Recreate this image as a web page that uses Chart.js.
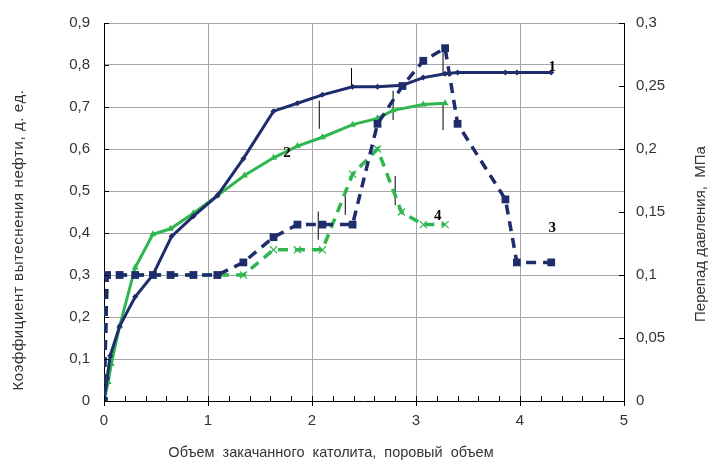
<!DOCTYPE html>
<html>
<head>
<meta charset="utf-8">
<script src="https://cdn.jsdelivr.net/npm/chart.js@4.4.1/dist/chart.umd.min.js"></script>
<style>
  html, body { margin: 0; padding: 0; background: #fff; }
  #wrap { width: 710px; height: 462px; }
</style>
</head>
<body>
<div id="wrap"><canvas id="chart" width="710" height="462"></canvas></div>
<script>
// curve 1: displacement coefficient (left axis), navy solid
const x1 = [0, 0.03, 0.06, 0.15, 0.3, 0.47, 0.65, 0.86, 1.09, 1.34, 1.63, 1.86, 2.1, 2.39, 2.63, 2.87, 3.07, 3.28, 3.4, 3.86, 3.97, 4.3];
const y1 = [0, 0.055, 0.108, 0.178, 0.248, 0.30, 0.392, 0.44, 0.489, 0.577, 0.69, 0.709, 0.729, 0.748, 0.748, 0.752, 0.77, 0.779, 0.782, 0.782, 0.782, 0.782];

// curve 2: displacement coefficient (left axis), green solid
const x2 = [0, 0.04, 0.07, 0.15, 0.3, 0.47, 0.64, 0.86, 1.09, 1.35, 1.63, 1.86, 2.1, 2.39, 2.63, 2.78, 3.07, 3.28];
const y2 = [0, 0.045, 0.088, 0.178, 0.318, 0.397, 0.41, 0.447, 0.489, 0.537, 0.579, 0.607, 0.628, 0.658, 0.673, 0.692, 0.706, 0.709];

// curve 3: pressure drop, MPa (right axis), navy dashed
const x3 = [0, 0.03, 0.15, 0.3, 0.47, 0.64, 0.86, 1.09, 1.34, 1.63, 1.86, 2.1, 2.39, 2.63, 2.87, 3.07, 3.28, 3.4, 3.86, 3.97, 4.3];
const y3 = [0, 0.1, 0.1, 0.1, 0.1, 0.1, 0.1, 0.1, 0.11, 0.13, 0.14, 0.14, 0.14, 0.22, 0.25, 0.27, 0.28, 0.22, 0.16, 0.11, 0.11];

// curve 4: pressure drop, MPa (right axis), green dashed
const x4 = [0, 0.03, 0.15, 0.3, 0.47, 0.64, 0.86, 1.09, 1.34, 1.63, 1.86, 2.1, 2.39, 2.63, 2.86, 3.07, 3.28];
const y4 = [0, 0.1, 0.1, 0.1, 0.1, 0.1, 0.1, 0.1, 0.1, 0.12, 0.12, 0.12, 0.18, 0.2, 0.15, 0.14, 0.14];

// error bars (left axis units)
const errX = [2.06, 2.07, 2.32, 2.38, 2.78, 2.8, 3.26, 3.26];
const errLow = [0.384, 0.648, 0.443, 0.748, 0.669, 0.466, 0.645, 0.78];
const errHigh = [0.451, 0.715, 0.505, 0.793, 0.739, 0.536, 0.711, 0.832];

// curve numbers, placed in data units
const curveNames = ['1', '2', '3', '4'];
const nameX = [4.31, 1.76, 4.31, 3.21];
const nameY = [0.795, 0.591, 0.411, 0.439];

const xTicks = [0, 1, 2, 3, 4, 5];

const navy = '#1f2c6c';
const green = '#2fb64f';
const grid = '#a6a6a6';
const tickFont = { family: 'Liberation Sans', size: 15 };

function pts(xs, ys) {
  return xs.map((x, i) => ({ x: x, y: ys[i] }));
}

let errData = [];
for (let i = 0; i < errX.length; i++) {
  errData.push({ x: errX[i], y: errLow[i] });
  errData.push({ x: errX[i], y: errHigh[i] });
  errData.push({ x: errX[i], y: null });
}

function comma(v) {
  return String(Number(v.toFixed(2))).replace('.', ',');
}

// minor ticks, curve numbers and axis titles
const extras = {
  id: 'extras',
  afterDatasetsDraw(chart) {
    const ctx = chart.ctx;
    const xs = chart.scales.x, ys = chart.scales.y, yr = chart.scales.y1;
    const a = chart.chartArea;
    ctx.save();
    ctx.strokeStyle = '#000';
    ctx.lineWidth = 1;
    ctx.beginPath();
    for (let k = 0; k <= 25; k++) {
      const px = Math.round(xs.getPixelForValue(k / 5)) + 0.5;
      const major = k % 5 === 0;
      ctx.moveTo(px, a.bottom - 5);
      ctx.lineTo(px, a.bottom + (major ? 5 : 0));
    }
    for (let k = 0; k <= 9; k++) {
      const py = Math.round(ys.getPixelForValue(k / 10)) + 0.5;
      ctx.moveTo(a.left, py);
      ctx.lineTo(a.left + 5, py);
    }
    for (let k = 0; k <= 6; k++) {
      const py = Math.round(yr.getPixelForValue(k / 20)) + 0.5;
      ctx.moveTo(a.right - 5, py);
      ctx.lineTo(a.right, py);
    }
    ctx.stroke();

    ctx.fillStyle = '#000';
    ctx.font = 'bold 15px "Liberation Serif"';
    ctx.textAlign = 'center';
    ctx.textBaseline = 'middle';
    curveNames.forEach((n, i) => {
      ctx.fillText(n, xs.getPixelForValue(nameX[i]), ys.getPixelForValue(nameY[i]));
    });

    ctx.fillStyle = '#333';
    ctx.font = '14.5px "Liberation Sans"';
    ctx.fillText('Объем  закачанного  католита,  поровый  объем', 331, 453);
    ctx.font = '15px "Liberation Sans"';
    ctx.save();
    ctx.translate(19, 240);
    ctx.rotate(-Math.PI / 2);
    ctx.letterSpacing = '0.6px';
    ctx.fillText('Коэффициент вытеснения нефти, д. ед.', 0, 0);
    ctx.restore();
    ctx.save();
    ctx.translate(701, 234);
    ctx.rotate(-Math.PI / 2);
    ctx.fillText('Перепад давления,  МПа', 0, 0);
    ctx.restore();
    ctx.restore();
  }
};

new Chart(document.getElementById('chart'), {
  type: 'scatter',
  data: {
    datasets: [
      {
        label: '3', data: pts(x3, y3), yAxisID: 'y1', showLine: true,
        borderColor: navy, backgroundColor: navy, borderWidth: 3.5, borderDash: [10, 7],
        pointStyle: 'rect', pointRadius: 5.5, pointBorderWidth: 0
      },
      {
        label: '4', data: pts(x4, y4), yAxisID: 'y1', showLine: true,
        borderColor: green, backgroundColor: green, borderWidth: 3.5, borderDash: [10, 7],
        pointStyle: 'crossRot', pointRadius: 5, pointBorderWidth: 1.2
      },
      {
        label: '1', data: pts(x1, y1), yAxisID: 'y', showLine: true,
        borderColor: navy, backgroundColor: navy, borderWidth: 3,
        pointStyle: 'rectRot', pointRadius: 3, pointBorderWidth: 0
      },
      {
        label: '2', data: pts(x2, y2), yAxisID: 'y', showLine: true,
        borderColor: green, backgroundColor: green, borderWidth: 3,
        pointStyle: 'triangle', pointRadius: 4, pointBorderWidth: 0
      },
      {
        label: 'err', data: errData, yAxisID: 'y', showLine: true, spanGaps: false,
        borderColor: '#000', borderWidth: 1, pointRadius: 0
      }
    ]
  },
  options: {
    responsive: false,
    animation: false,
    devicePixelRatio: 1,
    layout: { padding: { top: 16, left: 0, right: 0, bottom: 0 } },
    plugins: { legend: { display: false }, tooltip: { enabled: false } },
    scales: {
      x: {
        type: 'linear', min: 0, max: 5,
        afterFit: s => { s.height = 61; },
        afterBuildTicks: s => { s.ticks = xTicks.map(v => ({ value: v })); },
        ticks: { font: tickFont, color: '#333', padding: 11, callback: v => comma(v) },
        grid: { color: grid, drawTicks: false },
        border: { color: '#000' }
      },
      y: {
        position: 'left', min: 0, max: 0.9,
        afterFit: s => { s.width = 104; },
        ticks: { stepSize: 0.1, font: tickFont, color: '#333', padding: 14, callback: v => comma(v) },
        grid: { color: grid, drawTicks: false },
        border: { color: '#000' }
      },
      y1: {
        position: 'right', min: 0, max: 0.3,
        afterFit: s => { s.width = 86; },
        ticks: { stepSize: 0.05, font: tickFont, color: '#333', padding: 12, callback: v => comma(v) },
        grid: { drawOnChartArea: false, drawTicks: false },
        border: { color: '#000' }
      }
    }
  },
  plugins: [extras]
});
</script>
</body>
</html>
